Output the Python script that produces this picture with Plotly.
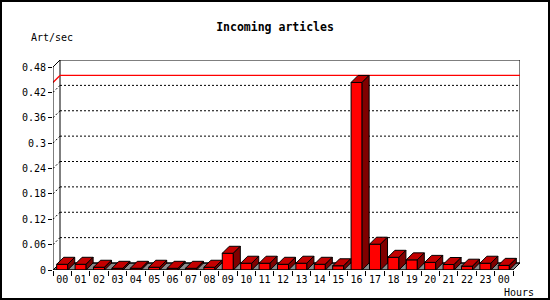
import plotly.graph_objects as go

hours = ["00", "01", "02", "03", "04", "05", "06", "07", "08", "09", "10", "11",
         "12", "13", "14", "15", "16", "17", "18", "19", "20", "21", "22", "23", "00"]
rates = [0.0135, 0.0135, 0.0065, 0.004, 0.004, 0.0065, 0.004, 0.004, 0.0065, 0.0395,
         0.016, 0.016, 0.0135, 0.016, 0.0135, 0.010, 0.4435, 0.061, 0.030, 0.024,
         0.018, 0.013, 0.009, 0.016, 0.011]
ytick_vals = [0, 0.06, 0.12, 0.18, 0.24, 0.3, 0.36, 0.42, 0.48]
ytick_text = ["0", "0.06", "0.12", "0.18", "0.24", "0.3", "0.36", "0.42", "0.48"]

# layout geometry (pixels)
L, R, T, B = 53, 30, 60, 30
W, H = 550 - L - R, 300 - T - B
D = 7  # 3-D depth in px
n = len(hours)
px_per_cat = (W - D) / n
dx = D / px_per_cat
ytop = ytick_vals[-1]
px_per_val = (H - D) / ytop
dy = D / px_per_val
bw = 0.6
xmin, xmax = -0.5, n - 0.5
mx = max(rates)

idx = list(range(n))

fig = go.Figure()
fig.add_trace(go.Bar(x=idx, y=rates, width=bw, marker=dict(color="#ff0000", line=dict(color="black", width=1)),
                     hoverinfo="skip"))

topx, topy, sidex, sidey = [], [], [], []
for i, v in zip(idx, rates):
    a, b = i - bw / 2, i + bw / 2
    topx += [a, b, b + dx, a + dx, a, None]
    topy += [v, v, v + dy, v + dy, v, None]
    sidex += [b, b + dx, b + dx, b, b, None]
    sidey += [0, dy, v + dy, v, 0, None]
fig.add_trace(go.Scatter(x=topx, y=topy, mode="lines", fill="toself", fillcolor="#c40000",
                         line=dict(color="black", width=1), hoverinfo="skip"))
fig.add_trace(go.Scatter(x=sidex, y=sidey, mode="lines", fill="toself", fillcolor="#800000",
                         line=dict(color="black", width=1), hoverinfo="skip"))

shapes = []
# floor
shapes.append(dict(type="path", layer="below",
                   path=f"M {xmin},0 L {xmax},0 L {xmax+dx},{dy} L {xmin+dx},{dy} Z",
                   fillcolor="#8c8c8c", line=dict(color="black", width=1)))
# back wall
shapes.append(dict(type="rect", layer="below", x0=xmin + dx, x1=xmax + dx, y0=dy, y1=ytop + dy,
                   line=dict(color="black", width=1)))
# grid lines
for v in ytick_vals[1:-1]:
    shapes.append(dict(type="line", layer="below", x0=xmin + dx, x1=xmax + dx, y0=v + dy, y1=v + dy,
                       line=dict(color="black", width=1, dash="2px,2px")))
    shapes.append(dict(type="line", layer="below", x0=xmin, x1=xmin + dx, y0=v, y1=v + dy,
                       line=dict(color="black", width=1, dash="2px,2px")))
# top-left diagonal
shapes.append(dict(type="line", layer="below", x0=xmin, x1=xmin + dx, y0=ytop, y1=ytop + dy,
                   line=dict(color="black", width=1)))
# max line
shapes.append(dict(type="line", layer="below", x0=xmin + dx, x1=xmax + dx, y0=mx + dy, y1=mx + dy,
                   line=dict(color="#ff0000", width=1.3)))
shapes.append(dict(type="line", layer="below", x0=xmin, x1=xmin + dx, y0=mx, y1=mx + dy,
                   line=dict(color="#ff0000", width=1.3)))
# front axes
shapes.append(dict(type="line", layer="above", x0=xmin, x1=xmin, y0=0, y1=ytop,
                   line=dict(color="black", width=1)))
shapes.append(dict(type="line", layer="above", x0=xmin, x1=xmax, y0=0, y1=0,
                   line=dict(color="black", width=1)))
# image border
def pxx(p):
    return (p - L) / W
def pxy(p):
    return (300 - B - p) / H
shapes.append(dict(type="rect", xref="paper", yref="paper", x0=pxx(1), x1=pxx(549), y0=pxy(1), y1=pxy(299),
                   line=dict(color="black", width=2)))

font = "DejaVu Sans Mono"
fig.update_layout(
    width=550, height=300, margin=dict(l=L, r=R, t=T, b=B),
    paper_bgcolor="white", plot_bgcolor="white", showlegend=False,
    shapes=shapes,
    title=dict(text="<b>Incoming articles</b>", x=0.5, xref="container", xanchor="center",
               y=1 - 27 / 300, yref="container", yanchor="middle",
               font=dict(family=font, size=11.5, color="black")),
    xaxis=dict(range=[xmin, xmax + dx], showgrid=False, zeroline=False, showline=False,
               tickmode="array", tickvals=idx, ticktext=hours, ticks="outside", ticklen=0,
               tickcolor="rgba(0,0,0,0)", tickfont=dict(family=font, size=10, color="black"),
               minor=dict(tickmode="array", tickvals=[i - 0.5 for i in range(n + 1)], ticks="outside",
                          ticklen=5, tickcolor="black", tickwidth=1),
               fixedrange=True),
    yaxis=dict(range=[0, ytop + dy], showgrid=False, zeroline=False, showline=False,
               tickmode="array", tickvals=ytick_vals, ticktext=ytick_text, ticks="outside", ticklen=4,
               tickcolor="black", tickwidth=1, tickfont=dict(family=font, size=10, color="black"),
               fixedrange=True),
    annotations=[
        dict(text="Art/sec", xref="paper", yref="paper", x=pxx(29), y=pxy(38), xanchor="left",
             yanchor="middle", showarrow=False, font=dict(family=font, size=10, color="black")),
        dict(text="Hours", xref="paper", yref="paper", x=pxx(519), y=pxy(292), xanchor="center",
             yanchor="middle", showarrow=False, font=dict(family=font, size=10, color="black")),
    ],
)
fig.write_html("out.html")
